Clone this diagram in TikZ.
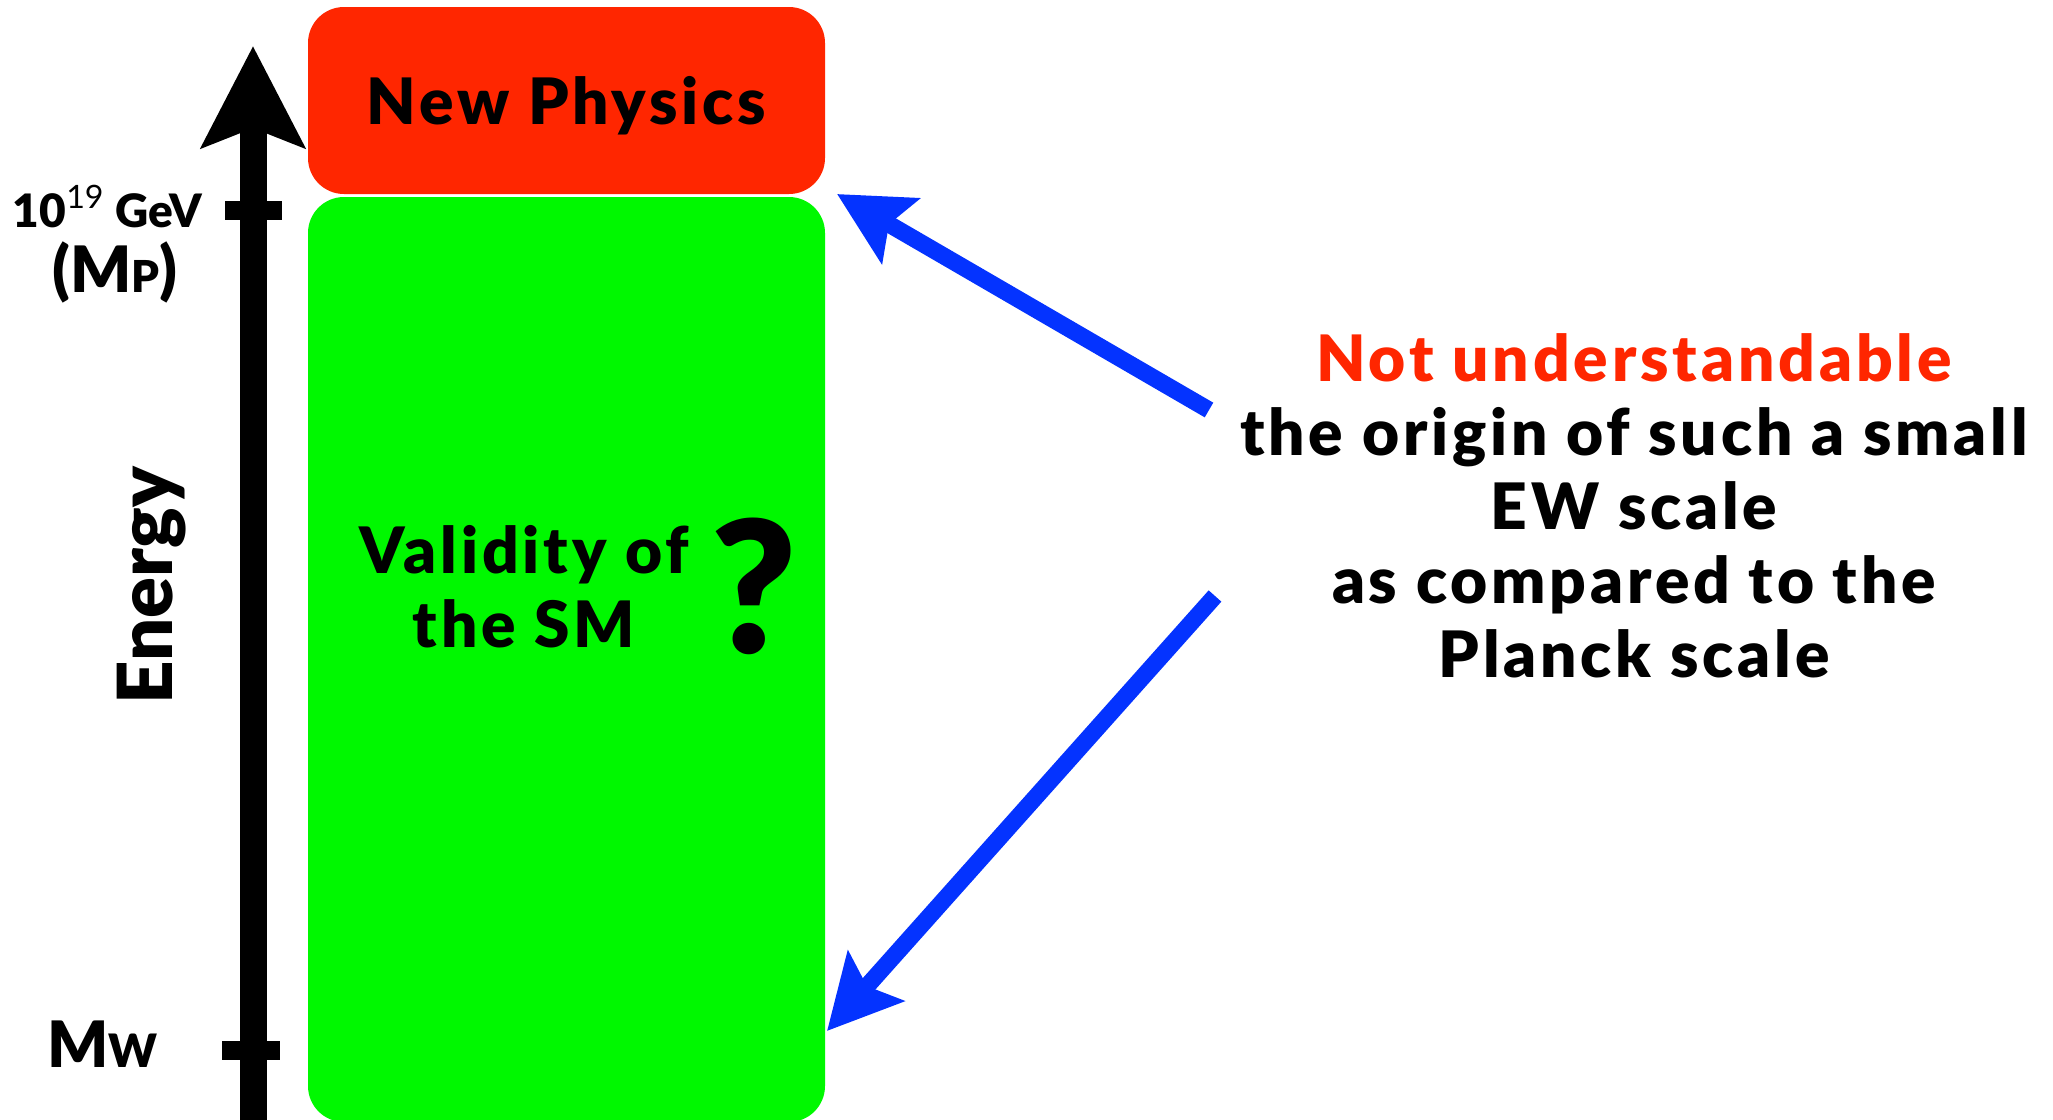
\documentclass[tikz,border=0pt]{standalone}
\usepackage{fontspec}
\setmainfont{Lato}[BoldFont={Lato Black}]
\usetikzlibrary{arrows.meta}
\definecolor{npred}{RGB}{255,38,0}
\definecolor{smgreen}{RGB}{0,248,0}
\definecolor{arrblue}{RGB}{4,51,255}

\begin{document}
\begin{tikzpicture}[x=0.5pt, y=-0.5pt,
    box/.style={rounded corners=18pt, inner sep=0pt, minimum width=258.5pt},
    big/.style={font=\bfseries\fontsize{32}{37}\selectfont\addfontfeatures{LetterSpace=6}},
    hint/.style={line width=8.5pt, arrblue, -{Stealth[length=36.5pt, width=37pt, inset=6.5pt]}},
    tick/.style={line width=9.5pt}]
    \useasboundingbox (0,0) rectangle (2053,1120);

    % Energy axis with its two marks
    \draw[line width=13.5pt, -{Stealth[length=50.5pt, width=51pt, inset=9.5pt]}] (253,1130) -- (253,46);
    \draw[tick] (225,210) -- (282,210);
    \draw[tick] (222,1050) -- (280,1050);
    \node (planck) [anchor=base east, font=\bfseries\fontsize{23}{23}\selectfont] at (209,227) {10\textsuperscript{\mdseries 19} GeV};
    \node (mp) [anchor=base, font=\bfseries\fontsize{32}{32}\selectfont] at (115,292) {(M{\fontsize{22}{22}\selectfont P})};
    \node (mw) [anchor=base west, font=\bfseries\fontsize{32}{32}\selectfont] at (40,1067) {M{\fontsize{23}{23}\selectfont W}};
    \node (energy) [rotate=90, font=\bfseries\fontsize{38}{38}\selectfont] at (152,586) {Energy};

    % the two ranges
    \node (np) [box, fill=npred, minimum height=93.5pt, text depth=0pt, big] at (566.5,100.5) {New Physics};
    \node (sm) [box, fill=smgreen, minimum height=462.5pt] at (566.5,659.5) {};
    \node (valid) [big, align=center] at (524,587) {Validity of\\the SM};
    \node (qm) [font=\bfseries\fontsize{92}{92}\selectfont] at (754,586) {?};

    % the puzzle
    \node (why) [big, align=center] at (1634,506) {\textcolor{npred}{Not understandable}\\the origin of such a small\\EW scale\\as compared to the\\Planck scale};

    \coordinate (t1) at (1209,410);
    \coordinate (h1) at (837,194);
    \coordinate (t2) at (1215,596);
    \coordinate (h2) at (827,1031);
    \draw[hint] (t1) -- (h1);
    \draw[hint] (t2) -- (h2);
\end{tikzpicture}
\end{document}
